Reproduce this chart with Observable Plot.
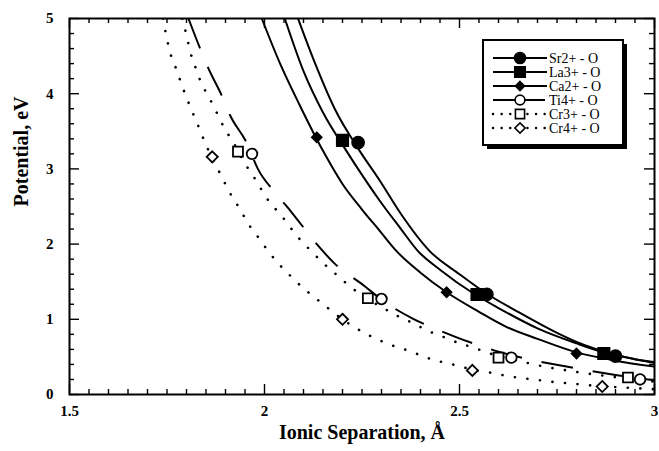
<!DOCTYPE html>
<html><head><meta charset="utf-8">
<script src="https://cdn.jsdelivr.net/npm/d3@7"></script>
<script src="https://cdn.jsdelivr.net/npm/@observablehq/plot@0.6"></script>
<style>body{margin:0;background:#fff}#chart{width:659px;height:451px}</style>
</head><body><div id="chart"></div>
<script>
// ---------- data ----------
const seriesNames = ["Sr2+ - O","La3+ - O","Ca2+ - O","Ti4+ - O","Cr3+ - O","Cr4+ - O"];
const xTickLabels = [1.5, 2, 2.5, 3];
const yTickLabels = [0, 1, 2, 3, 4, 5];
const xTitle = "Ionic Separation, Å";
const yTitle = "Potential, eV";

const srCurve = [[2.086,5],[2.13,4.4],[2.18,3.8],[2.244,3.24],[2.295,2.85],[2.35,2.4],[2.423,1.91],[2.5,1.6],[2.57,1.34],[2.65,1.1],[2.75,0.82],[2.8,0.7],[2.9,0.53],[2.95,0.47],[3.0,0.43]];
const laCurve = [[2.052,5],[2.1,4.3],[2.15,3.75],[2.21,3.24],[2.25,2.92],[2.295,2.58],[2.35,2.2],[2.393,1.91],[2.45,1.66],[2.54,1.33],[2.6,1.15],[2.7,0.88],[2.8,0.68],[2.87,0.56],[2.95,0.47],[3.0,0.42]];
const caCurve = [[1.993,5],[2.04,4.4],[2.09,3.85],[2.15,3.24],[2.2,2.8],[2.25,2.46],[2.295,2.18],[2.338,1.91],[2.4,1.62],[2.467,1.36],[2.55,1.1],[2.62,0.9],[2.7,0.74],[2.8,0.56],[2.9,0.45],[3.0,0.37]];
const tiCurve = [[1.805,5],[1.835,4.6],[1.855,4.35],[1.89,3.98],[1.912,3.71],[1.955,3.34],[1.983,3.0],[2.03,2.67],[2.07,2.42],[2.134,2.0],[2.178,1.75],[2.257,1.44],[2.303,1.25],[2.38,1.01],[2.431,0.89],[2.508,0.73],[2.6,0.57],[2.684,0.46],[2.756,0.39],[2.807,0.34],[2.9,0.26],[3.0,0.19]];
const cr3Curve = [[1.789,5],[1.799,4.8],[1.81,4.55],[1.823,4.35],[1.835,4.18],[1.85,4.02],[1.866,3.87],[1.881,3.71],[1.896,3.55],[1.917,3.38],[1.95,3.07],[1.973,2.89],[1.994,2.71],[2.014,2.55],[2.04,2.4],[2.065,2.23],[2.088,2.08],[2.121,1.9],[2.15,1.75],[2.183,1.6],[2.214,1.46],[2.244,1.34],[2.308,1.14],[2.339,1.05],[2.372,0.97],[2.403,0.89],[2.431,0.82],[2.467,0.75],[2.5,0.68],[2.533,0.63],[2.57,0.56],[2.65,0.45],[2.7,0.39],[2.8,0.3],[2.9,0.23],[3.0,0.17]];
const cr4Curve = [[1.74,5],[1.749,4.75],[1.759,4.53],[1.772,4.35],[1.783,4.19],[1.794,4.03],[1.806,3.87],[1.819,3.71],[1.832,3.55],[1.845,3.38],[1.866,3.14],[1.891,2.89],[1.907,2.72],[1.927,2.55],[1.945,2.39],[1.965,2.22],[1.987,2.07],[2.009,1.91],[2.036,1.74],[2.066,1.58],[2.096,1.43],[2.124,1.31],[2.16,1.16],[2.2,1.0],[2.252,0.83],[2.283,0.75],[2.313,0.68],[2.347,0.62],[2.377,0.57],[2.405,0.51],[2.441,0.45],[2.474,0.41],[2.505,0.37],[2.533,0.33],[2.569,0.3],[2.6,0.27],[2.628,0.24],[2.659,0.22],[2.687,0.2],[2.722,0.18],[2.751,0.16],[2.781,0.15],[2.815,0.13],[2.866,0.11],[2.9,0.1],[3.0,0.07]];

const srPoints = [[2.24,3.35],[2.57,1.33],[2.90,0.51]];
const laPoints = [[2.20,3.38],[2.545,1.33],[2.87,0.545]];
const caPoints = [[2.134,3.42],[2.467,1.36],[2.80,0.545]];
const tiPoints = [[1.968,3.20],[2.30,1.27],[2.633,0.49],[2.963,0.20]];
const cr3Points = [[1.932,3.23],[2.265,1.28],[2.60,0.49],[2.932,0.226]];
const cr4Points = [[1.866,3.16],[2.20,1.0],[2.533,0.32],[2.866,0.106]];

const curves = [srCurve, laCurve, caCurve, tiCurve, cr3Curve, cr4Curve];
const points = [srPoints, laPoints, caPoints, tiPoints, cr3Points, cr4Points];

// ---------- styles ----------
const DOT = "0.1,12.5", DASH = "32,20";
const styles = [
  {dash: null, symbol: "circle", fill: "black", r: 6},
  {dash: null, symbol: "square", fill: "black", r: 6.4},
  {dash: null, symbol: "diamond2", fill: "black", r: 4.4},
  {dash: DASH, symbol: "circle", fill: "white", r: 5.3},
  {dash: DOT, symbol: "square", fill: "white", r: 5.6},
  {dash: DOT, symbol: "diamond2", fill: "white", r: 5}
];

const W = 659, H = 451, mL = 69, mR = 5, mT = 18, mB = 57;
const pw = W - mL - mR, ph = H - mT - mB;
const xMinor = d3.range(31).map(i => +(1.5 + i * 0.05).toFixed(2));
const yMinor = d3.range(26).map(i => +(i * 0.2).toFixed(1));

const rows = [];
seriesNames.forEach((s, i) => curves[i].forEach(([x, y]) => rows.push({s, x, y})));
const pts = [];
seriesNames.forEach((s, i) => points[i].forEach(([x, y]) => pts.push({s, x, y})));

const marks = [];
seriesNames.forEach((s, i) => {
  const st = styles[i];
  const dotted = st.dash === DOT;
  marks.push(Plot.line(rows.filter(d => d.s === s), {
    x: "x", y: "y", stroke: "black",
    strokeWidth: dotted ? 2.6 : 2,
    strokeDasharray: st.dash || undefined,
    strokeLinecap: dotted ? "round" : "butt",
    curve: "monotone-x", clip: true
  }));
});
seriesNames.forEach((s, i) => {
  const st = styles[i];
  marks.push(Plot.dot(pts.filter(d => d.s === s), {
    x: "x", y: "y", symbol: () => st.symbol, r: st.r, fill: st.fill,
    stroke: "black", strokeWidth: 1.8
  }));
});
// inward ticks on all four sides
const tickLen = v => (Number.isInteger(v * 2) ? 10 : 5);
const yLen = v => (Number.isInteger(v) ? 10 : 5);
for (const len of [5, 10]) {
  const xs = xMinor.filter(v => tickLen(v) === len);
  const ys = yMinor.filter(v => yLen(v) === len);
  marks.push(
    Plot.tickX(xs, {x: d => d, insetTop: ph - len, strokeWidth: 1.4}),
    Plot.tickX(xs, {x: d => d, insetBottom: ph - len, strokeWidth: 1.4}),
    Plot.tickY(ys, {y: d => d, insetRight: pw - len, strokeWidth: 1.4}),
    Plot.tickY(ys, {y: d => d, insetLeft: pw - len, strokeWidth: 1.4})
  );
}
marks.push(
  Plot.frame({stroke: "black", strokeWidth: 2}),
  Plot.axisX({ticks: xTickLabels, tickSize: 0, tickPadding: 11, tickFormat: d => String(d), label: null, fontSize: 15, fontWeight: "bold"}),
  Plot.axisY({ticks: yTickLabels, tickSize: 0, tickPadding: 16, tickFormat: d => String(d), label: null, fontSize: 15, fontWeight: "bold"}),
  Plot.text([xTitle], {text: d => d, frameAnchor: "bottom", dy: 44, fontSize: 20, fontWeight: "bold", letterSpacing: "1px"}),
  Plot.text([yTitle], {text: d => d, frameAnchor: "left", dx: -48, rotate: -90, fontSize: 20, fontWeight: "bold", letterSpacing: "1.2px"})
);

const chart = Plot.plot({
  width: W, height: H,
  marginLeft: mL, marginRight: mR, marginTop: mT, marginBottom: mB,
  x: {domain: [1.5, 3]},
  y: {domain: [0, 5]},
  style: {fontFamily: "'Liberation Serif', 'DejaVu Serif', serif", fontSize: "15px", fontWeight: "bold", color: "black", background: "white"},
  marks
});
document.getElementById("chart").appendChild(chart);

// ---------- legend (boxed, with drop shadow) ----------
const svg = d3.select(chart);
const lg = svg.append("g");
const bx = 483, by = 40, bw = 140, bh = 105;
lg.append("rect").attr("x", bx + 4).attr("y", by + 4).attr("width", bw).attr("height", bh).attr("fill", "black");
lg.append("rect").attr("x", bx).attr("y", by).attr("width", bw).attr("height", bh).attr("fill", "white").attr("stroke", "black").attr("stroke-width", 2);
const symType = {circle: d3.symbolCircle, square: d3.symbolSquare, diamond2: d3.symbolDiamond2 || d3.symbolDiamond};
seriesNames.forEach((s, i) => {
  const st = styles[i];
  const dotted = st.dash === DOT;
  const y = 58 + i * 14;
  lg.append("line").attr("x1", 493).attr("x2", 547).attr("y1", y).attr("y2", y)
    .attr("stroke", "black").attr("stroke-width", dotted ? 2.4 : 2)
    .attr("stroke-dasharray", dotted ? "0.1,8.5" : (st.dash ? "22,8" : null))
    .attr("stroke-linecap", dotted ? "round" : "butt");
  lg.append("path").attr("transform", `translate(520,${y})`)
    .attr("d", d3.symbol(symType[st.symbol], Math.PI * st.r * st.r * 0.85)())
    .attr("fill", st.fill).attr("stroke", "black").attr("stroke-width", 1.6);
  lg.append("text").attr("x", 549).attr("y", y + 5).text(s)
    .attr("text-anchor", "start")
    .attr("font-family", "'Liberation Serif', serif").attr("font-size", 14).attr("font-weight", "normal");
});
</script>
</body></html>
